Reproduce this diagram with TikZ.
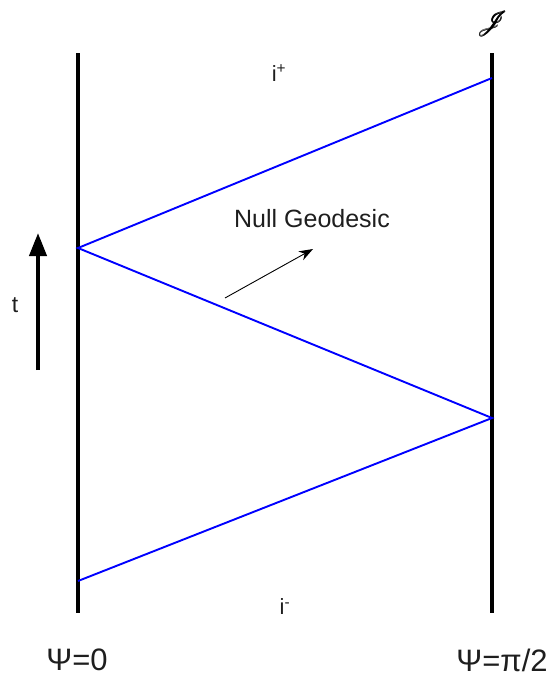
\documentclass[tikz,border=0pt]{standalone}
\usepackage{fontspec}
\setmainfont{Liberation Sans}
\usepackage{mathrsfs}
\usetikzlibrary{arrows.meta}
\definecolor{txt}{RGB}{30,30,30}
\begin{document}
\begin{tikzpicture}[x=1pt,y=-1pt,
  boundary/.style={line width=4pt,black},
  geod/.style={line width=1.9pt,blue},
  lbl/.style={text=txt,inner sep=0pt},
  scri/.style={inner sep=0pt,font=\fontsize{46}{50}\selectfont},
]
\useasboundingbox (0,0) rectangle (555,680);
% boundaries
\coordinate (Ltop) at (78,53);
\coordinate (Lbot) at (78,613);
\coordinate (Rtop) at (492,53);
\coordinate (Rbot) at (492,613);
\draw[boundary] (Ltop) -- (Lbot);
\draw[boundary] (Rtop) -- (Rbot);
% null geodesics
\coordinate (A) at (78,248);
\coordinate (B) at (492,78);
\coordinate (C) at (492,418);
\coordinate (D) at (78,581);
\draw[geod] (B) -- (A) -- (C) -- (D);
% arrow to label
\coordinate (g1) at (225,298);
\coordinate (g2) at (313,249);
\draw[line width=0.9pt,-{Stealth[length=14pt,width=10pt]}] (g1) -- (g2);
% time arrow
\coordinate (t1) at (38,370);
\coordinate (t2) at (38,233);
\draw[line width=4pt,-{Triangle[length=23pt,width=17pt]}] (t1) -- (t2);
% labels
\node[lbl,font=\fontsize{25}{29}\selectfont] (ng) at (312,219) {Null Geodesic};
\node[lbl,font=\fontsize{23}{27}\selectfont] (tl) at (15,305) {t};
\node[lbl,font=\fontsize{22}{26}\selectfont] (ip) at (279,73) {i\textsuperscript{+}};
\node[lbl,font=\fontsize{22}{26}\selectfont] (im) at (285,607) {i\textsuperscript{-}};
\node[lbl,font=\fontsize{31}{36}\selectfont] (p0) at (77,660) {Ψ=0};
\node[lbl,font=\fontsize{31}{36}\selectfont] (p1) at (502,660) {Ψ=π/2};
\node[scri] (J) at (492,24) {$\mathscr{J}$};
\node[scri] (Jb) at (492.7,24) {$\mathscr{J}$};
\node[scri] (Jc) at (492.35,23.6) {$\mathscr{J}$};
\end{tikzpicture}
\end{document}
